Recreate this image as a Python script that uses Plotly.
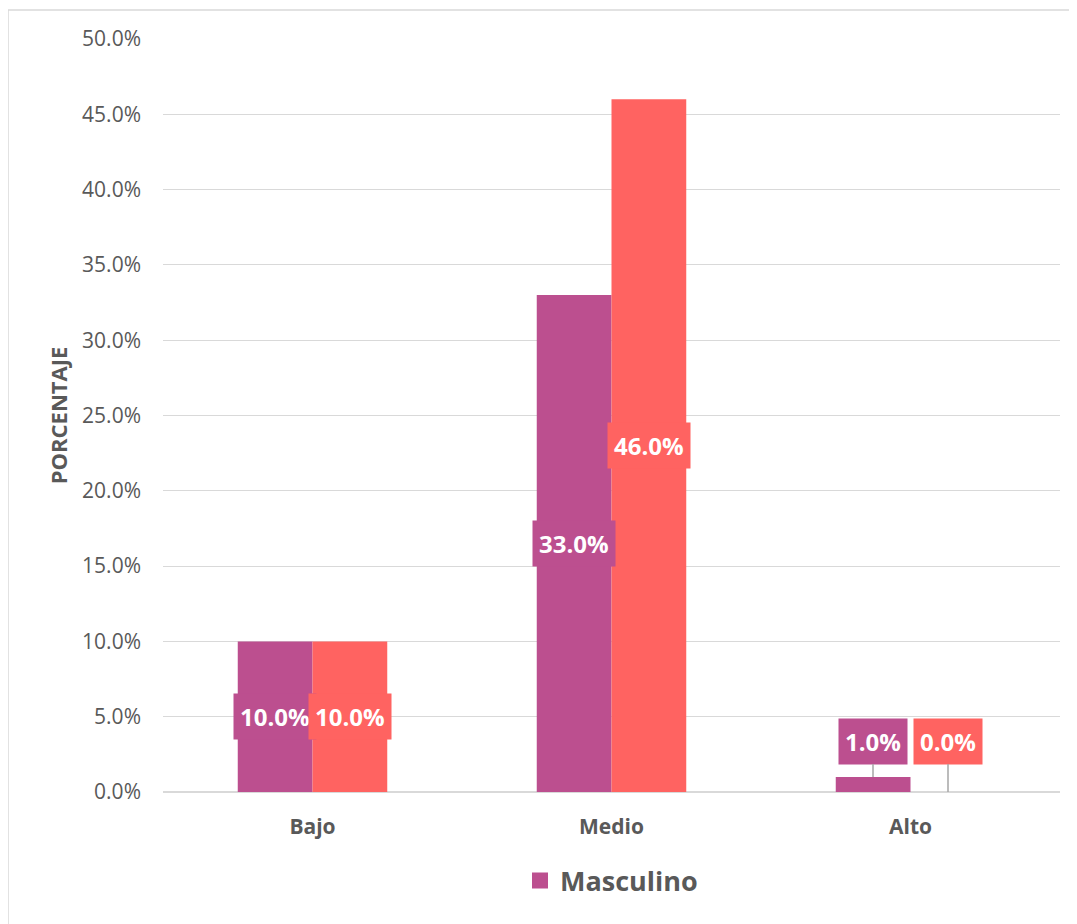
import plotly.graph_objects as go

categories = ["Bajo", "Medio", "Alto"]
masculino = [10.0, 33.0, 1.0]
femenino = [10.0, 46.0, 0.0]
series_names = ["Masculino", "Femenino"]
colors = ["#BC4F8F", "#FF6361"]
y_ticks = [0, 5, 10, 15, 20, 25, 30, 35, 40, 45, 50]

FONT = "Open Sans"
W, H = 1077, 924
OFF = 8  # page body margin
ML, MR, MT, MB = 155, 25, 31, 140
PW, PH = W - ML - MR, H - MT - MB
PX0, PY0 = ML + OFF, MT + OFF  # plot top-left on screen

fig = go.Figure()
for name, vals, col in [(series_names[0], masculino, colors[0]),
                        (series_names[1], femenino, colors[1])]:
    fig.add_trace(go.Bar(x=categories, y=vals, name=name, marker_color=col,
                         marker_line_width=0, showlegend=False))

# legend entry (only Masculino shown, as in the reference)
fig.add_trace(go.Scatter(x=[None], y=[None], mode="markers", name=series_names[0],
                         marker=dict(symbol="square", size=17, color=colors[0]),
                         showlegend=True, hoverinfo="skip"))

annotations = []
px_per_unit = PH / 50.0
for vals, col, shift in [(masculino, colors[0], -37.5), (femenino, colors[1], 37.5)]:
    for cat, v in zip(categories, vals):
        txt = f"<b>{v:.1f}%</b>"
        common = dict(x=cat, xref="x", yref="y", text=txt, xshift=shift, bgcolor=col,
                      font=dict(family=FONT, size=24, color="white"), borderpad=6)
        if v >= 5:
            annotations.append(dict(y=v / 2, showarrow=False, **common))
        else:
            annotations.append(dict(y=v, showarrow=True, arrowhead=0, arrowwidth=1.5,
                                    arrowcolor="#A6A6A6", ax=0,
                                    ay=-(51 - v * px_per_unit), **common))

fig.update_layout(
    width=W, height=H,
    margin=dict(l=ML, r=MR, t=MT, b=MB),
    paper_bgcolor="white", plot_bgcolor="white",
    barmode="group", bargap=0.5, bargroupgap=0,
    font=dict(family=FONT, color="#595959"),
    xaxis=dict(showgrid=False, showline=False, ticks="",
               tickfont=dict(family=FONT, size=21, color="#595959", weight="bold"),
               ticklabelstandoff=20),
    yaxis=dict(range=[0, 50], tickvals=y_ticks,
               ticktext=[f"{t:.1f}%" for t in y_ticks],
               showgrid=True, gridcolor="#D9D9D9", gridwidth=1,
               zeroline=True, zerolinecolor="#D9D9D9", zerolinewidth=1.5,
               showline=False, ticks="",
               tickfont=dict(family=FONT, size=21, color="#595959"),
               ticklabelstandoff=21,
               title=dict(text="<b>PORCENTAJE</b>", standoff=8,
                          font=dict(family=FONT, size=22, color="#595959"))),
    legend=dict(orientation="h", x=0.5, xanchor="center", y=-(881 - 792) / PH,
                yanchor="middle",
                font=dict(family=FONT, size=27, color="#595959", weight="bold"),
                itemwidth=30),
    annotations=annotations,
    shapes=[dict(type="rect", xref="paper", yref="paper",
                 x0=(8 - PX0) / PW, x1=1.05, y0=-0.25, y1=1 + (PY0 - 10) / PH,
                 line=dict(color="#D9D9D9", width=1.5), fillcolor="rgba(0,0,0,0)",
                 layer="below")],
)

fig.write_html("out.html")
